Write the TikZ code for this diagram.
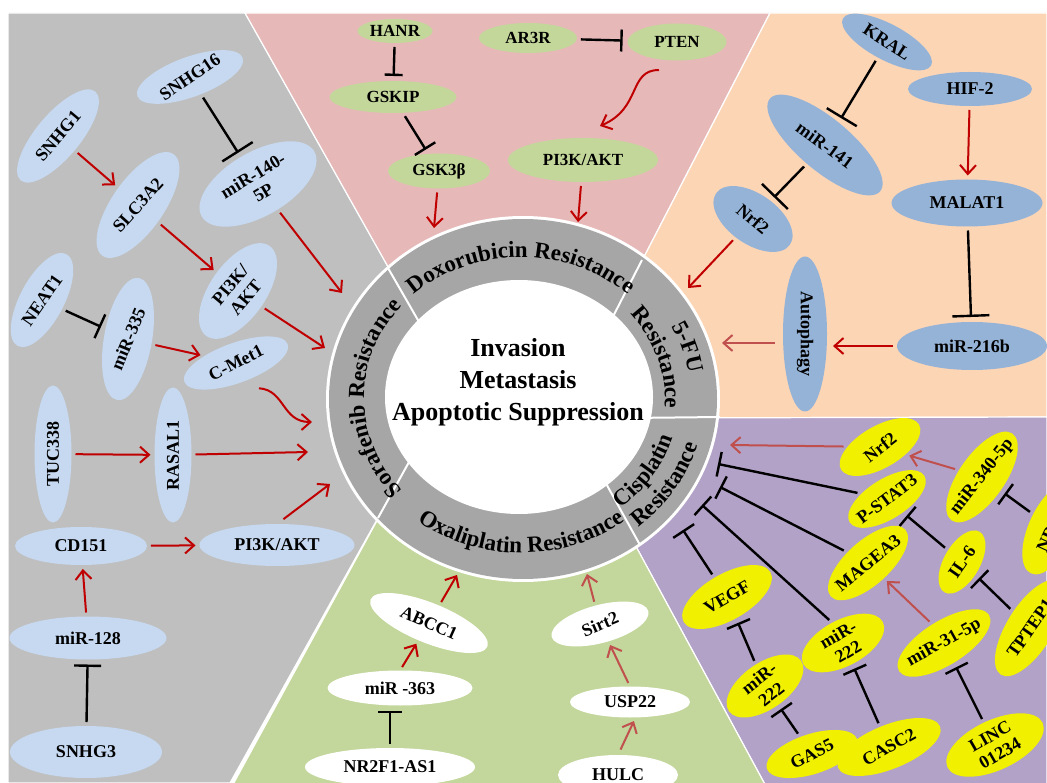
\documentclass[tikz,border=0pt]{standalone}
\usepackage{fontspec}
\setmainfont{Liberation Serif}
\usetikzlibrary{arrows.meta,shapes.geometric,decorations.text,calc}
\definecolor{pgrey}{RGB}{191,191,191}
\definecolor{ppink}{RGB}{230,185,184}
\definecolor{porange}{RGB}{252,213,181}
\definecolor{ppurple}{RGB}{179,162,199}
\definecolor{pgreen}{RGB}{195,214,155}
\definecolor{lblue}{RGB}{198,217,241}
\definecolor{mblue}{RGB}{149,179,215}
\definecolor{lgreen}{RGB}{196,215,155}
\definecolor{yel}{RGB}{240,240,0}
\definecolor{ringgrey}{RGB}{166,166,166}
\definecolor{dred}{RGB}{192,0,0}
\definecolor{lred}{RGB}{192,80,77}
\newcommand\nfont{\fontsize{18}{20}\selectfont\bfseries}
\newcommand\rfont{\fontsize{23}{25}\selectfont\bfseries}
\newcommand\cfont{\fontsize{26}{32}\selectfont\bfseries}
\begin{document}
\begin{tikzpicture}[x=1pt,y=-1pt,
  el/.style={ellipse, inner sep=0pt, outer sep=0pt, draw=none},
  lb/.style={font=\nfont, align=center, inner sep=0pt},
  act/.style={draw=dred, line width=2pt, -{Straight Barb[length=9pt,width=16pt]}, shorten <=4pt, shorten >=4pt},
  actl/.style={act, draw=lred},
  inh/.style={draw=black, line width=2.4pt, -{Bar[width=#1]}, shorten <=4pt, shorten >=5pt},
  inh/.default=34pt,
  free/.style={shorten >=0pt},
  panel/.style={draw=white, line width=1.2pt},
  ringtext/.style={decorate, decoration={text along path, text align=center, text={|\rfont|#1}}},
]
\useasboundingbox (0,0) rectangle (1047,783);
\clip (0,0) rectangle (1047,783);
\fill[white] (0,0) rectangle (1047,783);

% panels
\filldraw[panel, fill=pgrey] (8,13) -- (245,13) -- (418,320) -- (520,400) -- (403,473) -- (230,783) -- (8,783) -- cycle;
\filldraw[panel, fill=ppink] (245,13) -- (770,13) -- (613,317) -- (520,400) -- (418,320) -- cycle;
\filldraw[panel, fill=porange] (770,13) -- (1047,13) -- (1047,417) -- (653,418) -- (520,400) -- (613,317) -- cycle;
\filldraw[panel, fill=ppurple] (1047,417) -- (1047,790) -- (768,790) -- (607,493) -- (520,400) -- (653,418) -- cycle;
\filldraw[panel, fill=pgreen] (768,790) -- (230,790) -- (403,473) -- (520,400) -- (607,493) -- cycle;

% ring
\fill[white] (523,399) ellipse[x radius=197pt, y radius=183pt];
\fill[ringgrey] (523,399) ellipse[x radius=194pt, y radius=180pt];
\draw[white, line width=2pt] (388,268) -- (430,341);
\draw[white, line width=2pt] (642,260) -- (603,336);
\draw[white, line width=2pt] (720,417) -- (630,418);
\draw[white, line width=2pt] (640,545) -- (598,469);
\draw[white, line width=2pt] (378,518) -- (414,453);
\fill[white] (519,397) ellipse[x radius=134pt, y radius=117pt];

\node[font=\cfont, align=center, inner sep=0pt] (centre) at (518,382) {Invasion\\Metastasis\\Apoptotic Suppression};

\begin{scope}[shift={(521,398)}]
\path[ringtext={Doxorubicin Resistance}] plot[domain=200:340, samples=50] ({157*cos(\x)},{141*sin(\x)});
\path[ringtext={Sorafenib Resistance}] plot[domain=125:235, samples=50] ({157*cos(\x)},{141*sin(\x)});
\path[ringtext={Oxaliplatin Resistance}] plot[domain=140:40, samples=50] ({171*cos(\x)},{155*sin(\x)});
\path[ringtext={5-FU}] plot[domain=-48:12, samples=30] ({170*cos(\x)},{154*sin(\x)});
\path[ringtext={Resistance}] plot[domain=-48:12, samples=30] ({144*cos(\x)},{128*sin(\x)});
\path[ringtext={Cisplatin}] plot[domain=63:3, samples=30] ({158*cos(\x)},{142*sin(\x)});
\path[ringtext={Resistance}] plot[domain=63:3, samples=30] ({184*cos(\x)},{168*sin(\x)});
\end{scope}

% ---------- grey panel (Sorafenib)
\node[el, fill=lblue, minimum width=112pt, minimum height=40pt, rotate=20] (snhg16) at (190,77) {};
\node[lb, rotate=34] at (snhg16) {SNHG16};
\node[el, fill=lblue, minimum width=116pt, minimum height=44pt, rotate=50] (snhg1) at (58,136) {};
\node[lb, rotate=50] at (snhg1) {SNHG1};
\node[el, fill=lblue, minimum width=124pt, minimum height=52pt, rotate=55] (slc) at (138,205) {};
\node[lb, rotate=48] at (slc) {SLC3A2};
\node[el, fill=lblue, minimum width=130pt, minimum height=64pt, rotate=30] (mir140) at (258,184) {};
\node[lb, rotate=31] at (mir140) {miR-140-\\5P};
\node[el, fill=lblue, minimum width=110pt, minimum height=56pt, rotate=55] (pikg) at (238,291) {};
\node[lb, rotate=50] at (pikg) {PI3K/\\AKT};
\node[el, fill=lblue, minimum width=104pt, minimum height=44pt, rotate=62] (neat1) at (42,300) {};
\node[lb, rotate=55] at (neat1) {NEAT1};
\node[el, fill=lblue, minimum width=124pt, minimum height=48pt, rotate=80] (mir335) at (128,339) {};
\node[lb, rotate=68] at (mir335) {miR-335};
\node[el, fill=lblue, minimum width=110pt, minimum height=40pt, rotate=20] (cmet) at (236,363) {};
\node[lb, rotate=27] at (cmet) {C-Met1};
\node[el, fill=lblue, minimum width=137pt, minimum height=37pt, rotate=90] (tuc) at (53,454) {};
\node[lb, rotate=90] at (tuc) {TUC338};
\node[el, fill=lblue, minimum width=135pt, minimum height=37pt, rotate=90] (rasal) at (173,455) {};
\node[lb, rotate=90] at (rasal) {RASAL1};
\node[el, fill=lblue, minimum width=132pt, minimum height=38pt] (cd151) at (81,546) {};
\node[lb] at (cd151) {CD151};
\node[el, fill=lblue, minimum width=155pt, minimum height=42pt] (pikb) at (277,545) {};
\node[lb] at (pikb) {PI3K/AKT};
\node[el, fill=lblue, minimum width=157pt, minimum height=43pt] (mir128) at (88,638) {};
\node[lb] at (mir128) {miR-128};
\node[el, fill=lblue, minimum width=152pt, minimum height=52pt] (snhg3) at (86,752) {};
\node[lb] at (snhg3) {SNHG3};

\coordinate (t140) at (342,293);
\coordinate (tpika) at (325,348);
\coordinate (tcmet) at (312,422);
\coordinate (trasal) at (308,452);
\coordinate (tpikb) at (330,484);

\draw[act] (snhg1) -- (slc);
\draw[inh=36pt] (snhg16) -- (mir140);
\draw[act] (slc) -- (pikg);
\draw[act, free] (mir140) -- (t140);
\draw[inh=26pt] (neat1) -- (mir335);
\draw[act] (mir335) -- (cmet);
\draw[act, free] (pikg) -- (tpika);
\draw[act, free] ($(cmet)+(19,25)$) .. controls (285,390) and (282,422) .. (tcmet);
\draw[act] (tuc) -- (rasal);
\draw[act, free] (rasal) -- (trasal);
\draw[act, free, shorten <=8pt] (pikb.north) -- (tpikb);
\draw[act] (cd151) -- (pikb);
\draw[act] (mir128) -- (cd151);
\draw[inh=27pt] (snhg3) -- (mir128);

% ---------- pink panel (Doxorubicin)
\node[el, fill=lgreen, minimum width=75pt, minimum height=24pt] (hanr) at (395,31) {};
\node[lb, font=\fontsize{17}{19}\selectfont\bfseries] at (hanr) {HANR};
\node[el, fill=lgreen, minimum width=98pt, minimum height=30pt] (ar3r) at (528,38) {};
\node[lb, font=\fontsize{17}{19}\selectfont\bfseries] at (ar3r) {AR3R};
\node[el, fill=lgreen, minimum width=99pt, minimum height=37pt] (pten) at (677,42) {};
\node[lb, font=\fontsize{17}{19}\selectfont\bfseries] at (pten) {PTEN};
\node[el, fill=lgreen, minimum width=127pt, minimum height=32pt] (gskip) at (393,97) {};
\node[lb, font=\fontsize{17}{19}\selectfont\bfseries] at (gskip) {GSKIP};
\node[el, fill=lgreen, minimum width=102pt, minimum height=35pt] (gsk3b) at (439,171) {};
\node[lb, font=\fontsize{17}{19}\selectfont\bfseries] at (gsk3b) {GSK3β};
\node[el, fill=lgreen, minimum width=150pt, minimum height=44pt] (pikp) at (583,160) {};
\node[lb, font=\fontsize{17}{19}\selectfont\bfseries] at (pikp) {PI3K/AKT};

\coordinate (tpten) at (600,126);
\coordinate (tgsk) at (434,228);
\coordinate (tpikp) at (578,222);

\draw[inh=18pt] (hanr) -- (gskip);
\draw[inh=24pt] (gskip) -- (gsk3b);
\draw[inh=22pt] (ar3r) -- (pten);
\draw[act, free] ($(pten)+(-14,28)$) .. controls (628,70) and (642,108) .. (tpten);
\draw[act, free] (gsk3b) -- (tgsk);
\draw[act, free] (pikp) -- (tpikp);

% ---------- orange panel (5-FU)
\node[el, fill=mblue, minimum width=100pt, minimum height=36pt, rotate=-28] (kral) at (887,42) {};
\node[lb, rotate=-33] at (kral) {KRAL};
\node[el, fill=mblue, minimum width=124pt, minimum height=34pt] (hif) at (970,89) {};
\node[lb] at (hif) {HIF-2};
\node[el, fill=mblue, minimum width=144pt, minimum height=52pt, rotate=-40] (mir141) at (825,145) {};
\node[lb, rotate=-36] at (mir141) {miR-141};
\node[el, fill=mblue, minimum width=151pt, minimum height=47pt] (malat) at (967,203) {};
\node[lb] at (malat) {MALAT1};
\node[el, fill=mblue, minimum width=90pt, minimum height=50pt, rotate=-35] (nrf2o) at (753,219) {};
\node[lb, rotate=-40] at (nrf2o) {Nrf2};
\node[el, fill=mblue, minimum width=155pt, minimum height=44pt, rotate=-90] (autoph) at (805,334) {};
\node[lb, rotate=-90] at (autoph) {Autophagy};
\node[el, fill=mblue, minimum width=150pt, minimum height=48pt] (mir216) at (972,346) {};
\node[lb] at (mir216) {miR-216b};

\coordinate (tnrf2o) at (688,288);
\coordinate (tauto) at (722,343);

\draw[inh=35pt] (kral) -- (mir141);
\draw[inh=36pt] (mir141) -- (nrf2o);
\draw[act] (hif) -- (malat);
\draw[act, free] (nrf2o) -- (tnrf2o);
\draw[inh=37pt] (malat) -- (mir216);
\draw[act, shorten >=6pt] (mir216) -- (mir216 -| autoph.north);
\draw[actl, free, shorten <=8pt] (autoph.south |- tauto) -- (tauto);

% ---------- purple panel (Cisplatin)
\node[el, fill=yel, minimum width=90pt, minimum height=42pt, rotate=30] (nrf2p) at (880,447) {};
\node[lb, rotate=38] at (nrf2p) {Nrf2};
\node[el, fill=yel, minimum width=106pt, minimum height=46pt, rotate=55] (mir340) at (982,477) {};
\node[lb, rotate=52] at (mir340) {miR-340-5p};
\node[el, fill=yel, minimum width=88pt, minimum height=40pt, rotate=32] (pstat) at (887,499) {};
\node[lb, rotate=37] at (pstat) {P-STAT3};
\node[el, fill=yel, minimum width=100pt, minimum height=46pt, rotate=65] (nral) at (1052,528) {};
\node[lb, rotate=65] at (nral) {NRAL};
\node[el, fill=yel, minimum width=100pt, minimum height=44pt, rotate=42] (magea) at (868,563) {};
\node[lb, rotate=39] at (magea) {MAGEA3};
\node[el, fill=yel, minimum width=70pt, minimum height=36pt, rotate=60] (il6) at (962,562) {};
\node[lb, rotate=55] at (il6) {IL-6};
\node[el, fill=yel, minimum width=110pt, minimum height=46pt, rotate=58] (tptep) at (1030,628) {};
\node[lb, rotate=55] at (tptep) {TPTEP1};
\node[el, fill=yel, minimum width=100pt, minimum height=46pt, rotate=30] (vegf) at (727,597) {};
\node[lb, rotate=30] at (vegf) {VEGF};
\node[el, fill=yel, minimum width=88pt, minimum height=46pt, rotate=35] (mir222a) at (765,686) {};
\node[lb, rotate=38] at (mir222a) {miR-\\222};
\node[el, fill=yel, minimum width=90pt, minimum height=46pt, rotate=28] (mir222b) at (843,643) {};
\node[lb, rotate=30] at (mir222b) {miR-\\222};
\node[el, fill=yel, minimum width=106pt, minimum height=44pt, rotate=32] (mir31) at (944,643) {};
\node[lb, rotate=29] at (mir31) {miR-31-5p};
\node[el, fill=yel, minimum width=95pt, minimum height=40pt, rotate=18] (gas5) at (812,754) {};
\node[lb, rotate=27] at (gas5) {GAS5};
\node[el, fill=yel, minimum width=110pt, minimum height=44pt, rotate=22] (casc2) at (889,747) {};
\node[lb, rotate=29] at (casc2) {CASC2};
\node[el, fill=yel, minimum width=105pt, minimum height=50pt, rotate=25] (linc) at (995,745) {};
\node[lb, rotate=30] at (linc) {LINC\\01234};

\coordinate (tnrf2p) at (730,445);
\coordinate (tpstat) at (718,464);
\coordinate (tmagea) at (720,487);
\coordinate (tmir222b) at (702,505);
\coordinate (tvegf) at (683,530);

\draw[actl, free] (nrf2p) -- (tnrf2p);
\draw[actl] (mir340) -- (nrf2p);
\draw[inh=25pt, free] (pstat) -- (tpstat);
\draw[inh=25pt, free] (magea) -- (tmagea);
\draw[inh=25pt, free] (mir222b.north) -- (tmir222b);
\draw[inh=25pt, free] (vegf) -- (tvegf);
\draw[actl] (mir31.north) -- (magea);
\draw[inh=25pt] (il6) -- (pstat);
\draw[inh=25pt] (tptep) -- (il6);
\draw[inh=25pt] (nral) -- (mir340);
\draw[inh=25pt] (mir222a) -- (vegf);
\draw[inh=25pt] (gas5) -- (mir222a);
\draw[inh=25pt] (casc2) -- (mir222b);
\draw[inh=25pt] (linc) -- (mir31);

% ---------- green panel (Oxaliplatin)
\node[el, fill=white, minimum width=126pt, minimum height=40pt, rotate=-22] (abcc1) at (429,623) {};
\node[lb, rotate=-24] at (abcc1) {ABCC1};
\node[el, fill=white, minimum width=100pt, minimum height=38pt, rotate=15] (sirt2) at (600,624) {};
\node[lb, rotate=23] at (sirt2) {Sirt2};
\node[el, fill=white, minimum width=145pt, minimum height=35pt] (mir363) at (400,688) {};
\node[lb] at (mir363) {miR -363};
\node[el, fill=white, minimum width=120pt, minimum height=31pt] (usp22) at (630,702) {};
\node[lb] at (usp22) {USP22};
\node[el, fill=white, minimum width=170pt, minimum height=38pt] (nr2f1) at (390,767) {};
\node[lb] at (nr2f1) {NR2F1-AS1};
\node[el, fill=white, minimum width=120pt, minimum height=40pt] (hulc) at (618,775) {};
\node[lb] at (hulc) {HULC};

\coordinate (tabcc) at (457,575);
\coordinate (tsirt) at (587,574);

\draw[act, free] (abcc1) -- (tabcc);
\draw[act] (mir363.north) -- (abcc1);
\draw[inh=24pt] (nr2f1.north) -- (nr2f1.north |- mir363.south);
\draw[actl, free] (sirt2) -- (tsirt);
\draw[actl] (usp22.north) -- (sirt2);
\draw[actl, shorten <=6pt] (hulc.north) -- (usp22.-70);
\end{tikzpicture}
\end{document}
